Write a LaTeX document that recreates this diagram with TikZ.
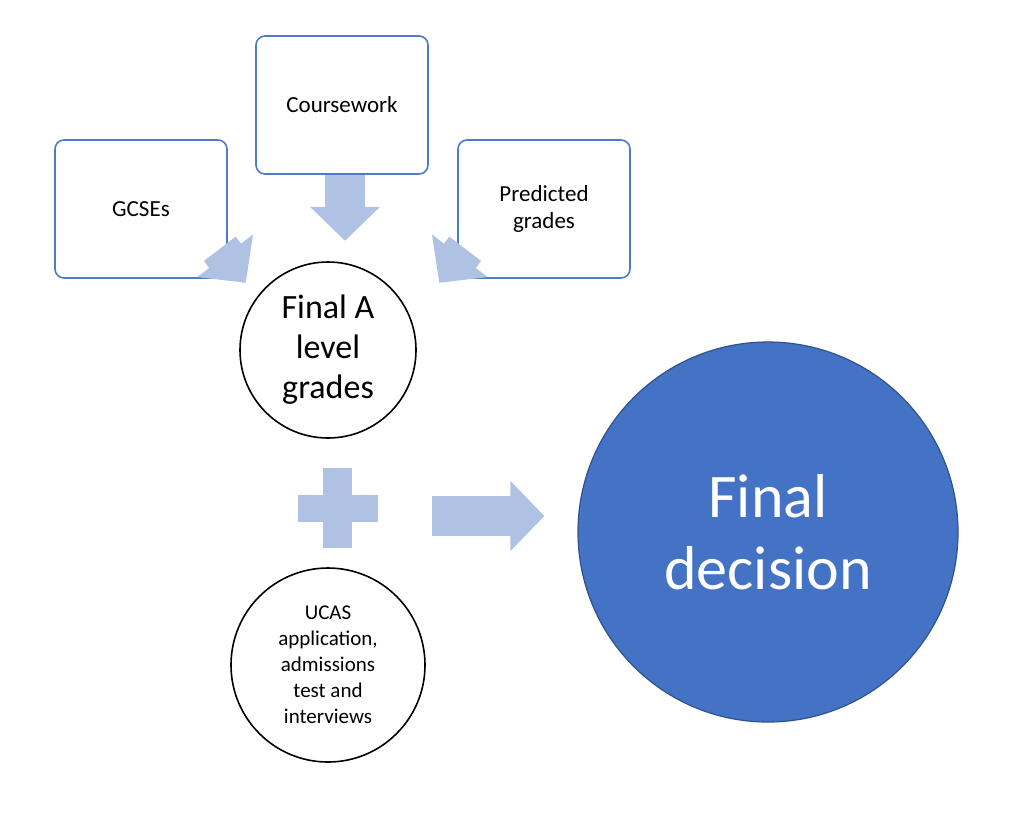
\documentclass[tikz,border=0pt]{standalone}
\usepackage{fontspec}
\setmainfont{Carlito}
\usetikzlibrary{arrows.meta,calc}
\definecolor{boxline}{HTML}{4F7BC4}
\definecolor{pale}{HTML}{B0C2E3}
\definecolor{deep}{HTML}{4472C4}
\definecolor{deepline}{HTML}{2F528F}
\tikzset{
  src/.style={draw=boxline, line width=1.6pt, rounded corners=9pt, fill=white,
    minimum width=172pt, minimum height=138pt, align=center, font=\fontsize{23}{27}\selectfont},
  ring/.style={circle, draw=black, line width=1.6pt, fill=white, align=center},
  flow/.style={pale, line width=40pt, -{Triangle[length=34pt,width=68pt]}}
}
\begin{document}
\begin{tikzpicture}[x=1pt,y=-1pt]
    \useasboundingbox[fill=white] (0,0) rectangle (1024,831);

    % Sources
    \node[src] (gcse) at (141,209) {GCSEs};
    \node[src] (cw) at (342,105) {Coursework};
    \node[src] (pred) at (544,209) {Predicted\\grades};

    % Arrows into the grades circle
    \draw[flow] (cw.south) ++(3,0) coordinate (cwout) -- ++(0,66) coordinate (cwin);
    \draw[flow] ($(gcse.south east)+(-8,-30)$) coordinate (gout) -- ++(26,34) coordinate (gin);
    \draw[flow] ($(pred.south west)+(8,-30)$) coordinate (pout) -- ++(-26,34) coordinate (pin);

    % Circles
    \node[ring, minimum size=176pt, font=\fontsize{34}{40}\selectfont] (fa) at (328,350) {Final A\\level\\grades};
    \node[ring, minimum size=194pt, font=\fontsize{21}{26}\selectfont] (ucas) at (328,665) {UCAS\\application,\\admissions\\test and\\interviews};
    \node[circle, draw=deepline, line width=1.2pt, fill=deep, text=white, minimum size=380pt,
      align=center, font=\fontsize{62}{72}\selectfont] (dec) at (768,532) {Final\\decision};

    % Plus sign
    \fill[pale] (323,468) rectangle (352,548);
    \fill[pale] (298,495) rectangle (378,522);

    % Arrow to decision
    \draw[flow] (432,516) coordinate (aout) -- ($(dec.west)+(-33,-16)$) coordinate (ain);
\end{tikzpicture}
\end{document}
